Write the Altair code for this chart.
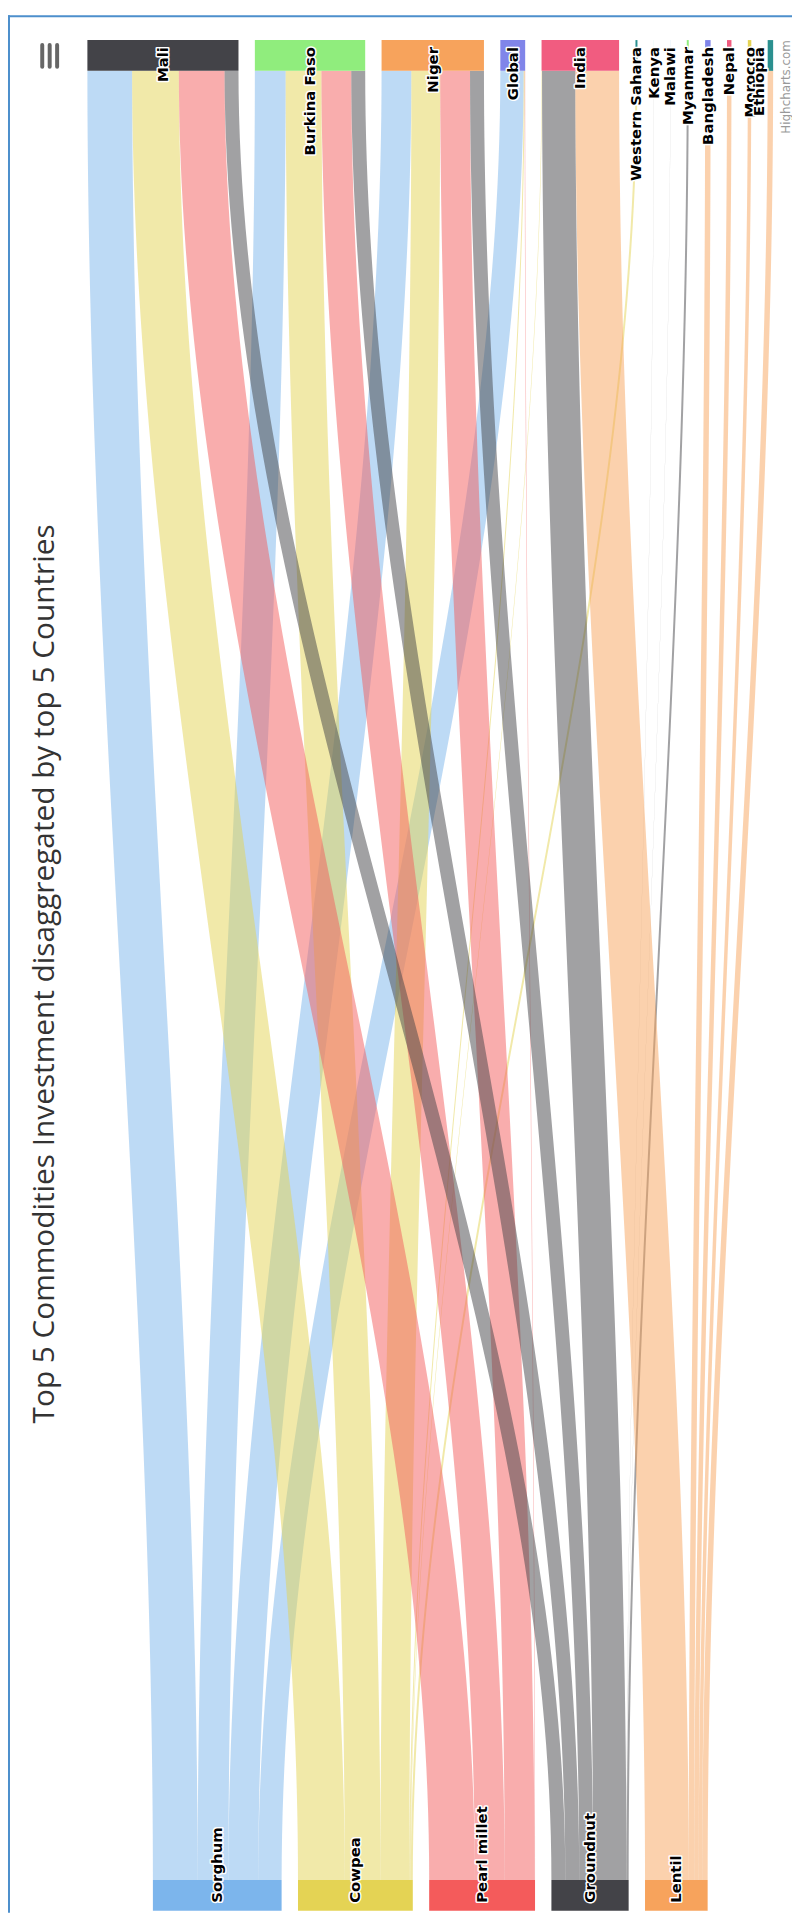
import altair as alt
import numpy as np
import pandas as pd

# ---------------- data ----------------
commodities = ["Sorghum", "Cowpea", "Pearl millet", "Groundnut", "Lentil"]
commodity_colors = ["#7cb5ec", "#e4d354", "#f45b5b", "#434348", "#f7a35c"]

countries = ["Mali", "Burkina Faso", "Niger", "Global", "India", "Western Sahara",
             "Kenya", "Malawi", "Myanmar", "Bangladesh", "Nepal", "Morocco", "Ethiopia"]
country_colors = ["#434348", "#90ed7d", "#f7a35c", "#8085e9", "#f15c80", "#2b908f",
                  "#91e8e1", "#7cb5ec", "#90ed7d", "#8085e9", "#f15c80", "#e4d354", "#2b908f"]

# investment flows per commodity, one value per country (order of `countries`)
sorghum      = [45, 31, 30, 23.5, 0,    0, 0,   0,   0, 0,   0,   0,   0]
cowpea       = [47, 36, 29, 1.0,  0.5,  2, 0,   0,   0, 0,   0,   0,   0]
pearl_millet = [46, 30, 30, 0.5,  0,    0, 0,   0,   0, 0,   0,   0,   0]
groundnut    = [14, 14, 14, 0,    33.5, 0, 0.1, 0.1, 2, 0,   0,   0,   0]
lentil       = [0,  0,  0,  0,    44,   0, 0,   0,   0, 5.5, 4.5, 3.5, 5.5]
flows = [sorghum, cowpea, pearl_millet, groundnut, lentil]

title_text = "Top 5 Commodities Investment disaggregated by top 5 Countries"
credit_text = "Highcharts.com"

# ---------------- layout constants (pixels) ----------------
W, H = 790, 1912
COL_LEFT = 80          # start of the longest column
COL_SPAN = 691         # extent of the longest column
NODE_PAD = 16.5
TOP_Y0, TOP_Y1 = 25, 56
BOT_Y0, BOT_Y1 = 1879, 1910
CURVE = 0.33
LABEL_MAX_PX = 757

M = np.array(flows, dtype=float)
comm_tot = M.sum(axis=1)
ctry_tot = M.sum(axis=0)
total = M.sum()
n_max = max(len(commodities), len(countries))
factor = (COL_SPAN - (n_max - 1) * NODE_PAD) / total
pad_u = NODE_PAD / factor


def column(tots):
    starts, pos = [], 0.0
    for t in tots:
        starts.append(pos)
        pos += t + pad_u
    return np.array(starts), pos - pad_u


ctry_start, ctry_len = column(ctry_tot)
comm_start, comm_len = column(comm_tot)
longest = max(ctry_len, comm_len)
ctry_start += (longest - ctry_len) / 2
comm_start += (longest - comm_len) / 2

x_lo = -COL_LEFT / factor
x_hi = (W - COL_LEFT) / factor
xscale = alt.Scale(domain=[x_lo, x_hi], nice=False, zero=False)
yscale = alt.Scale(domain=[0, H], reverse=True, nice=False, zero=False)

# ---------------- links (closed ribbons) ----------------
ts = np.linspace(0, 1, 81)
y0, y1 = BOT_Y0, TOP_Y1
c = CURVE * (y0 - y1)
ys = (1 - ts) ** 3 * y0 + 3 * (1 - ts) ** 2 * ts * (y0 - c) + 3 * (1 - ts) * ts ** 2 * (y1 + c) + ts ** 3 * y1
ss = 3 * ts ** 2 - 2 * ts ** 3

comm_off = comm_start.copy()
ctry_off = ctry_start.copy()
rows = []
k = 0
for i, cm in enumerate(commodities):
    for j, ct in enumerate(countries):
        v = M[i, j]
        if v <= 0:
            continue
        xb, xt = comm_off[i], ctry_off[j]
        comm_off[i] += v
        ctry_off[j] += v
        left = xb + (xt - xb) * ss
        seq = 0
        for yy, xl in zip(ys, left):
            rows.append({"link": f"{k:03d}", "hex": commodity_colors[i], "seq": seq, "y": yy, "x": xl})
            seq += 1
        for yy, xl in zip(ys[::-1], left[::-1]):
            rows.append({"link": f"{k:03d}", "hex": commodity_colors[i], "seq": seq, "y": yy, "x": xl + v})
            seq += 1
        rows.append({"link": f"{k:03d}", "hex": commodity_colors[i], "seq": seq, "y": ys[0], "x": left[0]})
        k += 1
df_links = pd.DataFrame(rows)

# ---------------- nodes ----------------
node_rows = []
for i, cm in enumerate(commodities):
    node_rows.append({"name": cm, "x0": comm_start[i], "x1": comm_start[i] + comm_tot[i],
                      "y0": BOT_Y0, "y1": BOT_Y1, "color": commodity_colors[i]})
for j, ct in enumerate(countries):
    node_rows.append({"name": ct, "x0": ctry_start[j], "x1": ctry_start[j] + ctry_tot[j],
                      "y0": TOP_Y0, "y1": TOP_Y1, "color": country_colors[j]})
df_nodes = pd.DataFrame(node_rows)

lab_max_u = (LABEL_MAX_PX - COL_LEFT) / factor
lab_rows = []
for i, cm in enumerate(commodities):
    lab_rows.append({"name": cm, "lx": comm_start[i] + comm_tot[i] / 2, "ly": BOT_Y1 - 8, "al": "left"})
for j, ct in enumerate(countries):
    lab_rows.append({"name": ct, "lx": min(ctry_start[j] + ctry_tot[j] / 2, lab_max_u),
                     "ly": TOP_Y0 + 7, "al": "right"})
df_labels = pd.DataFrame(lab_rows)

# ---------------- layers ----------------
links = alt.Chart(df_links).mark_line(fillOpacity=0.5, strokeWidth=0, strokeOpacity=0).encode(
    y=alt.Y("y:Q", scale=yscale, axis=None),
    x=alt.X("x:Q", scale=xscale, axis=None),
    detail="link:N",
    order=alt.Order("seq:Q"),
    fill=alt.Fill("hex:N", scale=None),
)

nodes = alt.Chart(df_nodes).mark_rect().encode(
    x=alt.X("x0:Q", scale=xscale, axis=None), x2="x1:Q",
    y=alt.Y("y0:Q", scale=yscale, axis=None), y2="y1:Q",
    fill=alt.Fill("color:N", scale=None),
)

label_layers = []
for _, r in df_labels.iterrows():
    base = alt.Chart(df_labels).transform_filter(alt.datum.name == r["name"]).encode(
        x=alt.X("lx:Q", scale=xscale, axis=None),
        y=alt.Y("ly:Q", scale=yscale, axis=None),
        text="name:N",
    )
    common = dict(angle=270, align=r["al"], baseline="middle", font="DejaVu Sans",
                  fontSize=15, fontWeight="bold")
    label_layers.append(base.mark_text(fill="white", stroke="white", strokeWidth=3,
                                       strokeJoin="round", **common))
    label_layers.append(base.mark_text(fill="black", **common))

one = pd.DataFrame({"a": [0]})
title = alt.Chart(pd.DataFrame({"t": [title_text]})).mark_text(
    angle=270, align="center", baseline="middle", font="Open Sans", fontSize=30, color="#333333"
).encode(x=alt.value(37), y=alt.value(966), text="t:N")

credit = alt.Chart(pd.DataFrame({"t": [credit_text]})).mark_text(
    angle=270, align="right", baseline="middle", font="DejaVu Sans", fontSize=12, color="#999999"
).encode(x=alt.value(784), y=alt.value(25), text="t:N")

menu = alt.layer(*[
    alt.Chart(one).mark_rule(stroke="#666666", strokeWidth=4, strokeCap="round").encode(
        x=alt.value(xv), y=alt.value(30), y2=alt.value(52))
    for xv in (34.5, 42, 49.5)
])

border_top = alt.Chart(one).mark_rule(stroke="#4d8fcc", strokeWidth=2).encode(
    x=alt.value(0), x2=alt.value(W), y=alt.value(1))
border_left = alt.Chart(one).mark_rule(stroke="#4d8fcc", strokeWidth=2).encode(
    x=alt.value(1), y=alt.value(0), y2=alt.value(H))

chart = alt.layer(
    border_top, border_left, links, nodes, *label_layers, title, credit, menu
).properties(
    width=W, height=H, autosize=alt.AutoSizeParams(type="none"), padding=0
).configure_view(stroke=None)

chart.save("out.html", embed_options={"renderer": "svg", "actions": False})
